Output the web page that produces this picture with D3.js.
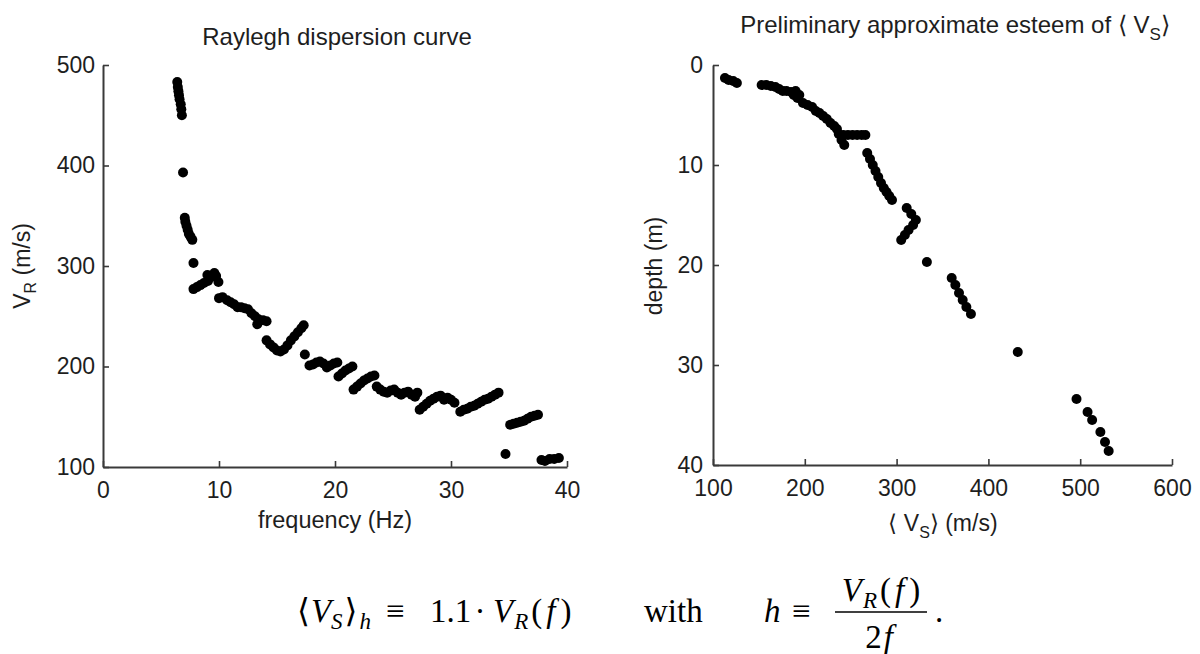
<!DOCTYPE html>
<html>
<head>
<meta charset="utf-8">
<script src="https://cdn.jsdelivr.net/npm/d3@7"></script>
<style>
  body { margin: 0; background: #fff; }
  svg { display: block; }
</style>
</head>
<body>
<svg id="fig" width="1200" height="654"></svg>
<script>
// Rayleigh dispersion curve: frequency (Hz) and phase velocity V_R (m/s)
const freqHz = [6.4, 6.45, 6.5, 6.55, 6.6, 6.7, 6.75, 6.8, 6.9, 7.05, 7.1, 7.2, 7.3, 7.4, 7.55, 7.7, 7.8,
  7.8, 8.1, 8.4, 8.7, 9.0, 9.05, 9.35, 9.6, 9.75, 9.95,
  10.0, 10.3, 10.7, 11.0, 11.3, 11.6, 11.9, 12.2, 12.5, 12.8, 13.1, 13.4, 13.3, 13.8, 14.1,
  14.1, 14.4, 14.7, 15.0, 15.3, 15.6, 15.9, 16.2, 16.5, 16.8, 17.1, 17.3, 17.4,
  17.8, 18.1, 18.4, 18.7, 19.0, 19.3, 19.6, 19.9, 20.2,
  20.3, 20.6, 20.9, 21.2, 21.5,
  21.6, 21.9, 22.2, 22.5, 22.8, 23.1, 23.4,
  23.6, 23.9, 24.2, 24.5, 24.8, 25.1, 25.4, 25.7, 26.0, 26.3, 26.6, 26.9, 27.1,
  27.3, 27.6, 27.9, 28.2, 28.5, 28.8, 29.1, 29.4, 29.7, 30.0, 30.3,
  30.8, 31.1, 31.4, 31.7, 32.0, 32.3, 32.6, 32.9, 33.2, 33.5, 33.8, 34.1,
  34.7,
  35.1, 35.4, 35.7, 36.0, 36.3, 36.6, 36.9, 37.2, 37.5,
  37.8, 38.1, 38.5, 38.9, 39.3];
const vrMs = [483, 478, 474, 470, 466, 461, 456, 450, 393, 348, 344, 340, 336, 332, 329, 326, 303,
  277, 279, 281, 283, 291, 285, 289, 293, 290, 284,
  268, 269, 266, 264, 262, 259, 259, 258, 257, 253, 250, 247, 242, 246, 245,
  226, 222, 219, 216, 215, 217, 221, 226, 230, 234, 238, 241, 212,
  201, 202, 204, 205, 203, 199, 201, 203, 204,
  190, 193, 196, 198, 200,
  177, 180, 183, 186, 188, 190, 191,
  180, 177, 175, 174, 176, 177, 174, 172, 174, 175, 172, 170, 174,
  157, 160, 163, 166, 168, 170, 171, 167, 169, 167, 164,
  155, 157, 158, 160, 161, 163, 165, 167, 168, 170, 172, 174,
  113,
  142, 143, 144, 145, 146, 148, 150, 151, 152,
  107, 106, 108, 108, 109];

// Preliminary <V_S> profile: mean shear velocity (m/s) against depth (m)
const vsMs = [113, 117, 122, 126,
  153, 158, 163, 168, 172, 176, 180, 185, 188, 190, 194, 192,
  198, 203, 208, 212, 216, 220, 224, 228, 232, 235,
  237, 242, 247, 252, 257, 262, 266, 240, 243,
  268, 271, 274, 277, 280, 283, 286, 289, 292, 295,
  311, 316, 321, 318, 313, 309, 305,
  333,
  360, 364, 368, 372, 376, 381,
  432,
  496, 508, 513, 522, 527, 531];
const depthM = [1.3, 1.5, 1.6, 1.8,
  2.0, 2.0, 2.1, 2.2, 2.4, 2.6, 2.6, 2.7, 3.0, 2.6, 3.0, 3.3,
  3.8, 4.0, 4.2, 4.6, 4.8, 5.1, 5.4, 5.8, 6.1, 6.4,
  6.9, 7.0, 7.0, 7.0, 7.0, 7.0, 7.0, 7.5, 8.0,
  8.8, 9.4, 10.0, 10.6, 11.2, 11.8, 12.3, 12.7, 13.1, 13.5,
  14.3, 14.9, 15.5, 16.0, 16.5, 17.0, 17.5,
  19.7,
  21.3, 22.0, 22.8, 23.5, 24.2, 24.9,
  28.7,
  33.4, 34.7, 35.5, 36.7, 37.7, 38.6];

const freqTicks = [0, 10, 20, 30, 40];
const vrTicks = [100, 200, 300, 400, 500];
const vsTicks = [100, 200, 300, 400, 500, 600];
const depthTicks = [0, 10, 20, 30, 40];

const svg = d3.select("#fig");
const SANS = "'Liberation Sans', Arial, Helvetica, sans-serif";
const SERIF = "'Liberation Serif', 'DejaVu Serif', serif";
const INK = "#1e1e1e";
const AXIS = "#3a3a3a";

function styleAxis(g) {
  g.select(".domain").attr("stroke", AXIS).attr("stroke-width", 2);
  g.selectAll(".tick line").attr("stroke", AXIS).attr("stroke-width", 1.6);
  g.selectAll(".tick text").attr("fill", INK).attr("font-size", 23).attr("font-family", SANS);
}

// ---------- left panel ----------
const xF = d3.scaleLinear().domain([0, 40]).range([103, 567]);
const yV = d3.scaleLinear().domain([100, 500]).range([467, 65]);

svg.append("g").attr("transform", `translate(0,${yV(100)})`)
  .call(d3.axisBottom(xF).tickValues(freqTicks).tickSizeInner(-6).tickSizeOuter(0).tickPadding(15))
  .call(styleAxis);
svg.append("g").attr("transform", `translate(${xF(0)},0)`)
  .call(d3.axisLeft(yV).tickValues(vrTicks).tickSizeInner(-6).tickSizeOuter(0).tickPadding(8))
  .call(styleAxis);

svg.append("g").selectAll("circle").data(freqHz).join("circle")
  .attr("cx", (d) => xF(d))
  .attr("cy", (d, i) => yV(vrMs[i]))
  .attr("r", 5)
  .attr("fill", "#000");

svg.append("text").attr("x", 337).attr("y", 45).attr("text-anchor", "middle")
  .attr("font-family", SANS).attr("font-size", 24).attr("fill", INK)
  .text("Raylegh dispersion curve");

svg.append("text").attr("x", 335).attr("y", 528).attr("text-anchor", "middle")
  .attr("font-family", SANS).attr("font-size", 23.5).attr("fill", INK)
  .text("frequency (Hz)");

const vrLab = svg.append("text").attr("transform", "translate(30,266) rotate(-90)")
  .attr("text-anchor", "middle").attr("font-family", SANS).attr("font-size", 23).attr("fill", INK);
vrLab.append("tspan").text("V");
vrLab.append("tspan").attr("dy", 6).attr("font-size", 16).text("R");
vrLab.append("tspan").attr("dy", -6).text(" (m/s)");

// ---------- right panel ----------
const xS = d3.scaleLinear().domain([100, 600]).range([713, 1172]);
const yD = d3.scaleLinear().domain([0, 40]).range([65, 465]);

svg.append("g").attr("transform", `translate(0,${yD(40)})`)
  .call(d3.axisBottom(xS).tickValues(vsTicks).tickSizeInner(-6).tickSizeOuter(0).tickPadding(15))
  .call(styleAxis);
svg.append("g").attr("transform", `translate(${xS(100)},0)`)
  .call(d3.axisLeft(yD).tickValues(depthTicks).tickSizeInner(-6).tickSizeOuter(0).tickPadding(10))
  .call(styleAxis);

svg.append("g").selectAll("circle").data(vsMs).join("circle")
  .attr("cx", (d) => xS(d))
  .attr("cy", (d, i) => yD(depthM[i]))
  .attr("r", 5)
  .attr("fill", "#000");

const rTitle = svg.append("text").attr("x", 955).attr("y", 33).attr("text-anchor", "middle")
  .attr("font-family", SANS).attr("font-size", 24).attr("fill", INK);
rTitle.append("tspan").text("Preliminary approximate esteem of \u27E8 V");
rTitle.append("tspan").attr("dy", 7).attr("font-size", 17).text("S");
rTitle.append("tspan").attr("dy", -7).text("\u27E9");

const vsLab = svg.append("text").attr("x", 943).attr("y", 531).attr("text-anchor", "middle")
  .attr("font-family", SANS).attr("font-size", 23).attr("fill", INK);
vsLab.append("tspan").text("\u27E8 V");
vsLab.append("tspan").attr("dy", 7).attr("font-size", 16).text("S");
vsLab.append("tspan").attr("dy", -7).text("\u27E9 (m/s)");

svg.append("text").attr("transform", "translate(662,266) rotate(-90)")
  .attr("text-anchor", "middle").attr("font-family", SANS).attr("font-size", 23).attr("fill", INK)
  .text("depth (m)");

// ---------- relation between the two panels ----------
const eq = svg.append("g").attr("font-family", SERIF).attr("font-size", 33).attr("fill", "#000");
const SUB = 23, DROP = 7;

// V_R(f), set with a little extra room around the parentheses
function velocityOfF(sel) {
  sel.append("tspan").attr("font-style", "italic").text("V");
  sel.append("tspan").attr("font-style", "italic").attr("font-size", SUB).attr("dy", DROP).attr("dx", 1).text("R");
  sel.append("tspan").attr("dy", -DROP).attr("dx", 3).text("(");
  sel.append("tspan").attr("font-style", "italic").attr("dx", 4).text("f");
  sel.append("tspan").attr("dx", 5).text(")");
}

// <V_S>_h
const lhs = eq.append("text").attr("x", 297).attr("y", 622);
lhs.append("tspan").text("\u27E8");
lhs.append("tspan").attr("font-style", "italic").attr("dx", 1).text("V");
lhs.append("tspan").attr("font-style", "italic").attr("font-size", SUB).attr("dy", DROP).text("S");
lhs.append("tspan").attr("dy", -DROP).attr("dx", 2).text("\u27E9");
lhs.append("tspan").attr("font-style", "italic").attr("font-size", SUB).attr("dy", DROP).attr("dx", 2).text("h");

eq.append("text").attr("x", 386).attr("y", 622).text("\u2261");
eq.append("text").attr("x", 430).attr("y", 622).text("1.1");
eq.append("text").attr("x", 480).attr("y", 622).attr("text-anchor", "middle").text("\u00B7");
velocityOfF(eq.append("text").attr("x", 493).attr("y", 622));

eq.append("text").attr("x", 644).attr("y", 622).text("with");

eq.append("text").attr("x", 764).attr("y", 622).attr("font-style", "italic").text("h");
eq.append("text").attr("x", 792).attr("y", 622).text("\u2261");

velocityOfF(eq.append("text").attr("x", 881).attr("y", 601).attr("text-anchor", "middle"));

eq.append("line").attr("x1", 835).attr("x2", 927).attr("y1", 612).attr("y2", 612)
  .attr("stroke", "#000").attr("stroke-width", 1.6);

const den = eq.append("text").attr("x", 879).attr("y", 648).attr("text-anchor", "middle");
den.append("tspan").text("2");
den.append("tspan").attr("font-style", "italic").attr("dx", 2).text("f");

eq.append("text").attr("x", 935).attr("y", 622).text(".");
</script>
</body>
</html>
